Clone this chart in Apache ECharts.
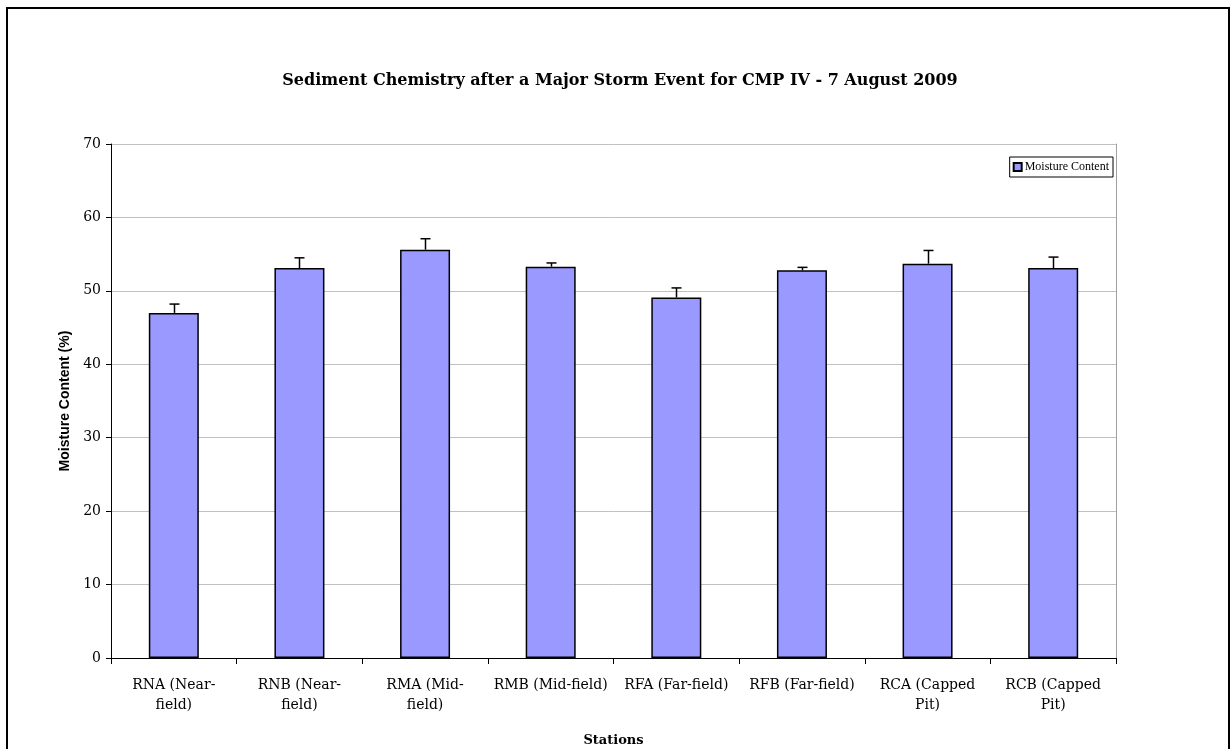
<!DOCTYPE html>
<html>
<head>
<meta charset="utf-8">
<script src="https://cdn.jsdelivr.net/npm/echarts@6/dist/echarts.min.js"></script>
<style>html,body{margin:0;padding:0;background:#fff}#c{width:1231px;height:749px}</style>
</head>
<body>
<div id="c"></div>
<script>
var categories = ['RNA (Near-\nfield)', 'RNB (Near-\nfield)', 'RMA (Mid-\nfield)', 'RMB (Mid-field)', 'RFA (Far-field)', 'RFB (Far-field)', 'RCA (Capped\nPit)', 'RCB (Capped\nPit)'];
var moisture = [47.0, 53.1, 55.6, 53.3, 49.1, 52.8, 53.7, 53.1];
var moistureErr = [1.2, 1.4, 1.5, 0.5, 1.3, 0.4, 1.8, 1.5];
var yTicks = [0, 10, 20, 30, 40, 50, 60, 70];

var chart = echarts.init(document.getElementById('c'));
var serif = '"DejaVu Serif", "Liberation Serif", serif';
var serif2 = '"Liberation Serif", serif';
var sans = '"Liberation Sans", Arial, sans-serif';

chart.setOption({
  animation: false,
  backgroundColor: '#fff',
  title: {
    text: 'Sediment Chemistry after a Major Storm Event for CMP IV - 7 August 2009',
    left: 615, top: 68, textAlign: 'center',
    textStyle: {fontFamily: serif, fontWeight: 'bold', fontSize: 16, color: '#000'}
  },
  legend: {
    data: [{name: 'Moisture Content', icon: 'rect'}],
    right: 118, top: 157,
    itemWidth: 8, itemHeight: 8, itemGap: 3,
    padding: [4, 4, 4, 3],
    borderColor: '#000', borderWidth: 1,
    textStyle: {fontFamily: serif2, fontSize: 12, color: '#000', padding: [0,0,0,-2]}
  },
  grid: {left: 111, right: 115, top: 144, bottom: 91, outerBoundsMode: 'none', containLabel: false},
  xAxis: {
    type: 'category',
    data: categories,
    name: 'Stations', nameLocation: 'middle', nameGap: 76,
    nameTextStyle: {fontFamily: serif, fontWeight: 'bold', fontSize: 13, color: '#000'},
    axisLine: {lineStyle: {color: '#000', width: 1}},
    axisTick: {show: true, alignWithLabel: false, length: 6, lineStyle: {color: '#000'}},
    axisLabel: {fontFamily: serif, fontSize: 14, color: '#000', margin: 17, lineHeight: 20, interval: 0}
  },
  yAxis: [{
    type: 'value', min: 0, max: 70, interval: 10,
    name: 'Moisture Content (%)', nameLocation: 'middle', nameGap: 37, nameRotate: 90,
    nameTextStyle: {fontFamily: sans, fontWeight: 'bold', fontSize: 14, color: '#000'},
    axisLine: {show: true, lineStyle: {color: '#000', width: 1}},
    axisTick: {show: true, length: 5, lineStyle: {color: '#000'}},
    axisLabel: {fontFamily: serif, fontSize: 14, color: '#000', margin: 10,
      formatter: function (v) { return yTicks.indexOf(v) >= 0 ? String(v) : ''; }},
    splitLine: {show: true, lineStyle: {color: '#c0c0c0', width: 1}}
  }, {
    type: 'value', min: 0, max: 70, interval: 10, position: 'right',
    axisLine: {show: true, lineStyle: {color: '#a0a0a0', width: 1}},
    axisTick: {show: false}, axisLabel: {show: false}, splitLine: {show: false}
  }],
  series: [{
    name: 'Moisture Content',
    type: 'bar',
    data: moisture,
    barWidth: 50,
    itemStyle: {color: '#9999ff', borderColor: '#000', borderWidth: 1.5},
    z: 2
  }, {
    name: 'err',
    type: 'custom',
    data: moisture.map(function (v, i) { return [i, v, v + moistureErr[i]]; }),
    renderItem: function (params, api) {
      var base = api.coord([api.value(0), api.value(1)]);
      var top = api.coord([api.value(0), api.value(2)]);
      var x = Math.round(base[0]) + 0.5;
      return {
        type: 'group',
        children: [
          {type: 'line', shape: {x1: x, y1: base[1], x2: x, y2: top[1]}, style: {stroke: '#000', lineWidth: 1.5}},
          {type: 'line', shape: {x1: x - 5, y1: top[1], x2: x + 5, y2: top[1]}, style: {stroke: '#000', lineWidth: 1.5}}
        ]
      };
    },
    z: 3
  }],
  graphic: [{
    type: 'rect', silent: true,
    shape: {x: 7, y: 8, width: 1222, height: 760},
    style: {fill: 'none', stroke: '#000', lineWidth: 2}
  }]
});
</script>
</body>
</html>
